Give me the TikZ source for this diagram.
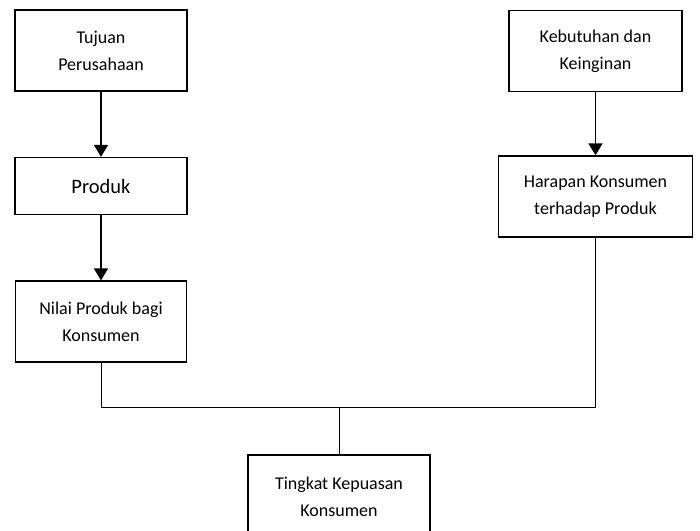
\documentclass[tikz,border=0pt]{standalone}
\usepackage{fontspec}
\setmainfont{Carlito}
\usetikzlibrary{shapes,arrows.meta,positioning}
\tikzstyle{kotak} = [rectangle, draw, line width=1.6pt, fill=white,
    align=center, inner sep=0pt, minimum width=172pt, minimum height=81pt,
    font=\fontsize{18}{27}\selectfont]
\tikzstyle{panah} = [draw, line width=1.8pt, -{Triangle[length=12pt,width=14pt]}]
\tikzstyle{garis} = [draw, line width=0.8pt]

\begin{document}
\begin{tikzpicture}[x=1pt, y=1pt]
    \useasboundingbox (0,0) rectangle (700,-530);

    \node[kotak] (tujuan) at (101,-50.5) {Tujuan\\Perusahaan};
    \node[kotak, minimum height=57pt, font=\fontsize{20.5}{24}\selectfont,
        below=65pt of tujuan] (produk) {Produk};
    \node[kotak, minimum width=171pt, below=65pt of produk] (nilai) {Nilai Produk bagi\\Konsumen};

    \node[kotak, minimum width=173pt] (kebutuhan) at (595.5,-51) {Kebutuhan dan\\Keinginan};
    \node[kotak, minimum width=194pt, below=63pt of kebutuhan] (harapan) {Harapan Konsumen\\terhadap Produk};

    \node[kotak, minimum width=182pt, minimum height=84pt] (tingkat) at (339,-497) {Tingkat Kepuasan\\Konsumen};

    \coordinate (gabung) at (339,-407);

    \path[panah] (tujuan) -- (produk);
    \path[panah] (produk) -- (nilai);
    \path[panah] (kebutuhan) -- (harapan);

    \path[garis] (nilai) -- (nilai |- gabung) -- (harapan |- gabung) -- (harapan);
    \path[garis] (gabung) -- (tingkat);
\end{tikzpicture}
\end{document}
